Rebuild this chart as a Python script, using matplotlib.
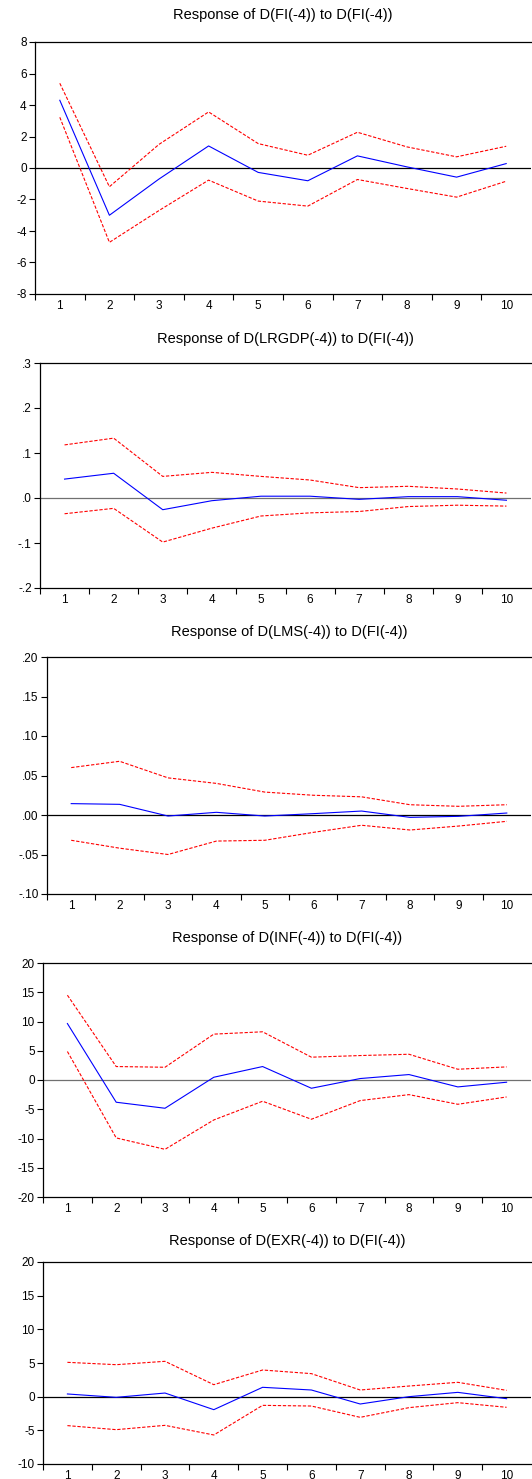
import matplotlib
matplotlib.use('Agg')
import matplotlib.pyplot as plt
from matplotlib.ticker import FixedLocator, FixedFormatter

plt.rcParams['font.family'] = ['Liberation Sans', 'DejaVu Sans']

periods = list(range(1, 11))

titles = [
    'Response of D(FI(-4)) to D(FI(-4))',
    'Response of D(LRGDP(-4)) to D(FI(-4))',
    'Response of D(LMS(-4)) to D(FI(-4))',
    'Response of D(INF(-4)) to D(FI(-4))',
    'Response of D(EXR(-4)) to D(FI(-4))',
]

# impulse responses (blue) and +/- 2 S.E. bands (red dashed)
fi_resp = [4.3, -3.0, -0.7, 1.4, -0.28, -0.81, 0.77, 0.07, -0.58, 0.28]
fi_upper = [5.38, -1.19, 1.5, 3.56, 1.55, 0.81, 2.27, 1.34, 0.71, 1.38]
fi_lower = [3.22, -4.72, -2.7, -0.77, -2.1, -2.42, -0.73, -1.3, -1.85, -0.84]

gdp_resp = [0.042, 0.055, -0.026, -0.006, 0.004, 0.004, -0.003, 0.003, 0.003, -0.005]
gdp_upper = [0.118, 0.133, 0.048, 0.057, 0.048, 0.040, 0.023, 0.026, 0.020, 0.011]
gdp_lower = [-0.035, -0.023, -0.098, -0.067, -0.040, -0.033, -0.030, -0.019, -0.016, -0.018]

lms_resp = [0.0144, 0.0135, -0.0013, 0.0034, -0.0013, 0.0017, 0.005, -0.003, -0.0017, 0.0025]
lms_upper = [0.060, 0.068, 0.047, 0.040, 0.029, 0.025, 0.023, 0.013, 0.011, 0.013]
lms_lower = [-0.032, -0.042, -0.050, -0.033, -0.032, -0.022, -0.013, -0.019, -0.014, -0.008]

inf_resp = [9.65, -3.8, -4.83, 0.47, 2.3, -1.41, 0.25, 0.93, -1.18, -0.38]
inf_upper = [14.5, 2.3, 2.18, 7.84, 8.24, 3.9, 4.18, 4.4, 1.84, 2.24]
inf_lower = [4.87, -9.9, -11.85, -6.83, -3.63, -6.71, -3.52, -2.5, -4.15, -2.9]

exr_resp = [0.4, -0.1, 0.54, -1.93, 1.39, 0.99, -1.09, 0.0, 0.64, -0.3]
exr_upper = [5.1, 4.75, 5.25, 1.78, 3.96, 3.42, 0.99, 1.58, 2.13, 0.94]
exr_lower = [-4.3, -4.9, -4.26, -5.69, -1.29, -1.39, -3.07, -1.63, -0.89, -1.58]

yticks = [
    [-8, -6, -4, -2, 0, 2, 4, 6, 8],
    [-0.2, -0.1, 0.0, 0.1, 0.2, 0.3],
    [-0.10, -0.05, 0.00, 0.05, 0.10, 0.15, 0.20],
    [-20, -15, -10, -5, 0, 5, 10, 15, 20],
    [-10, -5, 0, 5, 10, 15, 20],
]
ylabels = [
    ['-8', '-6', '-4', '-2', '0', '2', '4', '6', '8'],
    ['-.2', '-.1', '.0', '.1', '.2', '.3'],
    ['-.10', '-.05', '.00', '.05', '.10', '.15', '.20'],
    ['-20', '-15', '-10', '-5', '0', '5', '10', '15', '20'],
    ['-10', '-5', '0', '5', '10', '15', '20'],
]

series = [
    (fi_resp, fi_upper, fi_lower),
    (gdp_resp, gdp_upper, gdp_lower),
    (lms_resp, lms_upper, lms_lower),
    (inf_resp, inf_upper, inf_lower),
    (exr_resp, exr_upper, exr_lower),
]

# pixel layout: (left, top, bottom), title centre y
W, H = 532, 1479
boxes = [(35, 42, 294), (40, 363, 588), (47, 657, 894), (43, 963, 1197), (43, 1262, 1464)]
title_y = [15, 339, 632, 938, 1241]
zero_col = ['black', '#707070', 'black', '#707070', 'black']

fig = plt.figure(figsize=(W / 100, H / 100), dpi=100)

for i in range(5):
    left, top, bottom = boxes[i]
    ax = fig.add_axes([left / W, 1 - bottom / H, (531 - left) / W, (bottom - top) / H])
    resp, up, lo = series[i]
    ax.axhline(0, color=zero_col[i], lw=0.9, zorder=1)
    ax.plot(periods, up, color='#ff0000', lw=0.8, ls=(0, (3, 1.5)))
    ax.plot(periods, lo, color='#ff0000', lw=0.8, ls=(0, (3, 1.5)))
    ax.plot(periods, resp, color='#0000ff', lw=0.8)

    ax.set_xlim(0.5, 10.5)
    ax.set_ylim(yticks[i][0], yticks[i][-1])
    ax.yaxis.set_major_locator(FixedLocator(yticks[i]))
    ax.yaxis.set_major_formatter(FixedFormatter(ylabels[i]))

    ax.xaxis.set_major_locator(FixedLocator([k + 0.5 for k in range(0, 10)]))
    ax.xaxis.set_major_formatter(FixedFormatter([''] * 10))
    ax.xaxis.set_minor_locator(FixedLocator(periods))
    ax.xaxis.set_minor_formatter(FixedFormatter([str(p) for p in periods]))
    ax.tick_params(axis='x', which='major', direction='out', length=4, width=0.8)
    ax.tick_params(axis='x', which='minor', length=0, labelsize=8.5, pad=4)
    ax.tick_params(axis='y', direction='out', length=4, width=0.8, labelsize=8.5, pad=2)

    ax.spines['right'].set_visible(False)
    for s in ['left', 'top', 'bottom']:
        ax.spines[s].set_linewidth(0.9)

    fig.text((left + 531) / 2 / W, 1 - title_y[i] / H, titles[i],
             ha='center', va='center', fontsize=10.5)

fig.savefig('out.png', dpi=100)
